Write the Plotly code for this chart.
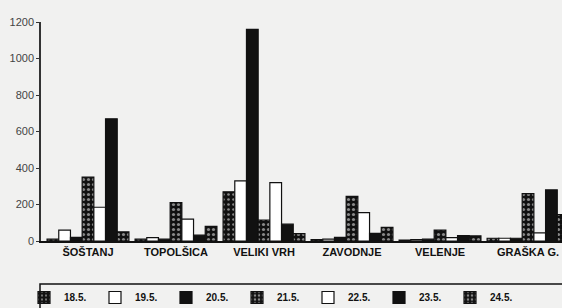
import plotly.graph_objects as go

stations = ["ŠOŠTANJ", "TOPOLŠICA", "VELIKI VRH", "ZAVODNJE", "VELENJE", "GRAŠKA G."]
dates = ["18.5.", "19.5.", "20.5.", "21.5.", "22.5.", "23.5.", "24.5."]

v_18 = [10, 10, 270, 8, 5, 15]
v_19 = [60, 18, 330, 10, 8, 15]
v_20 = [20, 10, 1160, 20, 10, 15]
v_21 = [350, 210, 115, 245, 60, 260]
v_22 = [185, 120, 320, 155, 18, 45]
v_23 = [670, 32, 92, 42, 30, 280]
v_24 = [50, 80, 40, 75, 28, 145]

series = [v_18, v_19, v_20, v_21, v_22, v_23, v_24]

brick_dark = dict(shape=".", fgcolor="#ffffff", bgcolor="#111111", size=5, solidity=0.22)
brick = dict(shape=".", fgcolor="#ffffff", bgcolor="#111111", size=5, solidity=0.32)
styles = [
    dict(color="#111111", pattern=brick_dark),
    dict(color="#ffffff"),
    dict(color="#111111"),
    dict(color="#111111", pattern=brick),
    dict(color="#ffffff"),
    dict(color="#111111"),
    dict(color="#111111", pattern=brick),
]

fig = go.Figure()
for name, vals, st in zip(dates, series, styles):
    marker = dict(color=st["color"], line=dict(color="#111111", width=1.2))
    if "pattern" in st:
        marker["pattern"] = st["pattern"]
    fig.add_trace(go.Bar(name=name, x=stations, y=vals, marker=marker))

W, H = 562, 308
L, R, T, B = 41, 0, 22, 67
pw, ph = W - L - R, H - T - B

def px_x(p):
    return (p - L) / pw

def px_y(p):
    return (H - B - p) / ph

bg = "#f1f1f0"
fig.update_layout(
    width=W, height=H,
    margin=dict(l=L, r=R, t=T, b=B, pad=0, autoexpand=False),
    paper_bgcolor=bg, plot_bgcolor=bg,
    barmode="group", bargap=0.07, bargroupgap=0,
    font=dict(family="Liberation Sans, Arial, sans-serif", color="#111111"),
    showlegend=True,
    legend=dict(
        orientation="h", x=px_x(24), y=px_y(283), xanchor="left", yanchor="top",
        bgcolor="rgba(0,0,0,0)", borderwidth=0,
        font=dict(size=10, family="Liberation Sans, Arial, sans-serif", color="#111111", weight="bold"),
        entrywidth=26, entrywidthmode="pixels", traceorder="normal",
    ),
    xaxis=dict(
        range=[-0.534, 5.386], showline=True, linecolor="#111111", linewidth=2,
        ticks="", showgrid=False, zeroline=False, automargin=False,
        tickfont=dict(size=11, family="Liberation Sans, Arial, sans-serif", color="#111111", weight="bold"),
    ),
    yaxis=dict(
        range=[0, 1200], tickvals=[0, 200, 400, 600, 800, 1000, 1200],
        showline=True, linecolor="#333333", linewidth=1.5,
        ticks="outside", ticklen=3, tickcolor="#333333", tickwidth=1,
        showgrid=False, zeroline=False, automargin=False,
        tickfont=dict(size=11, family="Liberation Sans, Arial, sans-serif", color="#444444"),
    ),
    shapes=[dict(type="rect", xref="paper", yref="paper",
                 x0=px_x(40), x1=px_x(575), y0=px_y(284), y1=px_y(320),
                 line=dict(color="#111111", width=1.5), fillcolor="rgba(0,0,0,0)")],
)

fig.write_html(
    "out.html",
    config={"displayModeBar": False},
    post_script="document.body.style.margin='0';"
                "document.body.style.overflow='hidden';"
                "document.documentElement.style.overflow='hidden';",
)
